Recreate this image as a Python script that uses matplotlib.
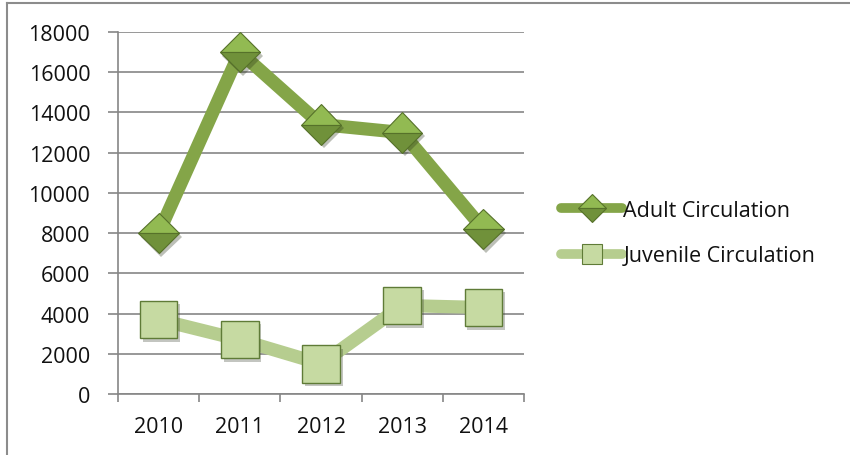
import matplotlib
matplotlib.use('Agg')
import matplotlib.pyplot as plt
import matplotlib.patheffects as pe
from matplotlib.lines import Line2D

plt.rcParams['font.family'] = ['Open Sans', 'DejaVu Sans']

years = ['2010', '2011', '2012', '2013', '2014']
adult = [8000, 17000, 13400, 13000, 8200]
juvenile = [3700, 2700, 1500, 4400, 4300]
y_ticks = [0, 2000, 4000, 6000, 8000, 10000, 12000, 14000, 16000, 18000]

grid_col = '#868686'
adult_line = '#84A548'
juv_line = '#B6CD8F'
fs = 15.5

fig = plt.figure(figsize=(8.5, 4.56), dpi=100)
ax = fig.add_axes([118 / 850, 61 / 456, 406 / 850, 362 / 456])

x = list(range(len(years)))
shadow = [pe.SimplePatchShadow(offset=(2, -2.5), alpha=0.3), pe.Normal()]

# lines
ax.plot(x, adult, color=adult_line, lw=9.5, solid_joinstyle='miter', zorder=3)
ax.plot(x, juvenile, color=juv_line, lw=9.5, solid_joinstyle='miter', zorder=3)

# markers (drawn separately so the shadow only hits the markers)
ax.plot(x, adult, ls='none', marker='D', ms=20.5, fillstyle='top',
        markerfacecolor='#92BA52', markerfacecoloralt='#70913A',
        markeredgecolor='#56712A', markeredgewidth=0.8, zorder=4,
        path_effects=shadow)
ax.plot(x, juvenile, ls='none', marker='s', ms=27,
        markerfacecolor='#C6DAA2', markeredgecolor='#5F7B37',
        markeredgewidth=1.0, zorder=4, path_effects=shadow)

ax.set_xlim(-0.5, len(years) - 0.5)
ax.set_ylim(0, 18000)
ax.set_yticks(y_ticks)
ax.set_yticklabels([str(v) for v in y_ticks])
ax.yaxis.grid(True, color=grid_col, lw=1.2)
ax.set_axisbelow(True)

ax.set_xticks([i - 0.5 for i in range(len(years) + 1)])
ax.set_xticklabels([])
ax.set_xticks(x, minor=True)
ax.set_xticklabels(years, minor=True)
ax.tick_params(axis='x', which='major', length=6, width=1.2, color=grid_col, direction='out')
ax.tick_params(axis='x', which='minor', length=0, pad=16, labelsize=fs, labelcolor='#111111')
ax.tick_params(axis='y', length=7, width=1.2, color=grid_col, pad=13, labelsize=fs,
               labelcolor='#111111')

for s in ['top', 'right']:
    ax.spines[s].set_visible(False)
for s in ['left', 'bottom']:
    ax.spines[s].set_color(grid_col)
    ax.spines[s].set_linewidth(1.2)

h1 = Line2D([], [], color=adult_line, lw=7, marker='D', ms=14, fillstyle='top',
            markerfacecolor='#92BA52', markerfacecoloralt='#70913A',
            markeredgecolor='#56712A', markeredgewidth=0.8, solid_capstyle='round')
h2 = Line2D([], [], color=juv_line, lw=7, marker='s', ms=14,
            markerfacecolor='#C6DAA2', markeredgecolor='#5F7B37',
            markeredgewidth=0.8, solid_capstyle='round')
fig.legend([h1, h2], ['Adult Circulation', 'Juvenile Circulation'],
           loc='center left', bbox_to_anchor=(561 / 850, 1 - 234 / 456),
           frameon=False, fontsize=fs, handlelength=2.85, handletextpad=0.05,
           labelspacing=1.15, borderpad=0, borderaxespad=0, labelcolor='#111111')

# outer frame (cropped chart border: left and top edges only)
fig.add_artist(Line2D([6.5 / 850, 6.5 / 850], [0, 1 - 3.5 / 456], color='#8C8C8C', lw=1.5,
                      transform=fig.transFigure))
fig.add_artist(Line2D([6.5 / 850, 1], [1 - 3.5 / 456, 1 - 3.5 / 456], color='#8C8C8C', lw=1.5,
                      transform=fig.transFigure))

fig.savefig('out.png', dpi=100)
